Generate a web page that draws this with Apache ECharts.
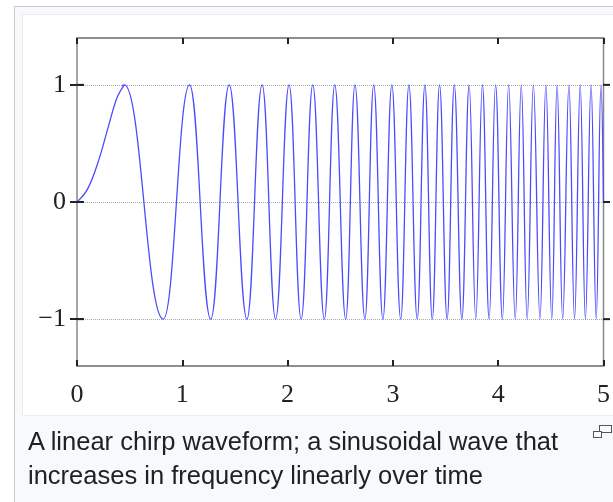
<!DOCTYPE html>
<html>
<head>
<meta charset="utf-8">
<title>Linear chirp</title>
<script src="https://cdn.jsdelivr.net/npm/echarts@6/dist/echarts.min.js"></script>
<style>
	html, body { margin: 0; padding: 0; background: #fff; }
	#page { position: relative; width: 613px; height: 502px; overflow: hidden; }
	.thumb { position: absolute; left: 14px; top: 6px; width: 640px; height: 520px; background: #f8f9fa; border: 1px solid #c8ccd1; }
	.image { position: absolute; left: 22px; top: 14px; width: 620px; height: 400px; background: #fff; border: 1px solid #eaecf0; }
	#chart { position: absolute; left: 0; top: 0; width: 613px; height: 502px; }
	.caption { position: absolute; left: 28px; top: 424px; width: 560px; font-family: "Liberation Sans", Arial, sans-serif; font-size: 25.5px; line-height: 34px; color: #202122; }
	.magnify { position: absolute; left: 593px; top: 425px; width: 20px; height: 14px; }
	.magnify .a { position: absolute; left: 6px; top: 0; width: 11px; height: 6px; border: 1.5px solid #555; background: #f8f9fa; }
	.magnify .b { position: absolute; left: 0; top: 6px; width: 7px; height: 5px; border: 1.5px solid #555; background: #f8f9fa; }
</style>
</head>
<body>
<div id="page">
	<div class="thumb"></div>
	<div class="image"></div>
	<div id="chart"></div>
	<div class="caption">A linear chirp waveform; a sinusoidal wave that increases in frequency linearly over time</div>
	<div class="magnify"><div class="a"></div><div class="b"></div></div>
</div>
<script>
// slow first rise (time, value)
var riseT = [0, 0.1, 0.2, 0.3, 0.38, 0.45];
var riseY = [0, 0.11, 0.34, 0.65, 0.89, 1];
// start and end of the wave
var edgeT = [0, 5.0];
var edgeY = [0, 0];
// times where the wave touches +1
var peakT = [0.450, 1.069, 1.445, 1.758, 2.014, 2.239, 2.448, 2.640, 2.818, 2.990,
	3.152, 3.304, 3.443, 3.583, 3.724, 3.850, 3.975, 4.099, 4.219, 4.334,
	4.453, 4.559, 4.672, 4.779, 4.882, 4.976];
// times where the wave touches -1
var troughT = [0.820, 1.270, 1.614, 1.886, 2.129, 2.349, 2.552, 2.734, 2.905, 3.074,
	3.231, 3.374, 3.515, 3.655, 3.787, 3.914, 4.040, 4.162, 4.275, 4.397,
	4.509, 4.612, 4.725, 4.828, 4.931];
var xTicks = [0, 1, 2, 3, 4, 5];
var yTicks = [-1, 0, 1];
var yLimit = 1.4;

var risePoints = riseT.map(function (t, i) { return [t, riseY[i]]; });
var points = [];
edgeT.forEach(function (t, i) { points.push([t, edgeY[i]]); });
peakT.forEach(function (t) { points.push([t, 1]); });
troughT.forEach(function (t) { points.push([t, -1]); });
points.sort(function (a, b) { return a[0] - b[0]; });

var waveColor = '#4b4bff';
// the rise before the first peak is drawn by its own series, so hide it here
var cut = peakT[0] / xTicks[xTicks.length - 1];
var waveGradient = new echarts.graphic.LinearGradient(0, 0, 1, 0, [
	{ offset: 0, color: 'rgba(75,75,255,0)' },
	{ offset: cut - 0.002, color: 'rgba(75,75,255,0)' },
	{ offset: cut, color: waveColor },
	{ offset: 1, color: waveColor }
]);

/* plot box, and an inner box spanning -1..1 that carries the dotted lines */
var box = { left: 77, right: 3, top: 38, bottom: 136 };
var plotH = 502 - box.top - box.bottom;
var pad = plotH * (yLimit - yTicks[yTicks.length - 1]) / (2 * yLimit);

var frameColor = '#888';
var tickStyle = { color: '#222', width: 2 };
var labelFont = { fontFamily: '"Liberation Serif", "DejaVu Serif", serif', fontSize: 26, color: '#222' };
var minusFormat = function (v) { return v < 0 ? '\u2212' + (-v) : String(v); };

var myChart = echarts.init(document.getElementById('chart'));
var option = {
	animation: false,
	grid: [
		{
			left: box.left,
			right: box.right,
			top: box.top,
			bottom: box.bottom,
			show: true,
			borderColor: frameColor,
			borderWidth: 1.5
		},
		{
			left: box.left,
			right: box.right,
			top: box.top + pad,
			bottom: box.bottom + pad
		}
	],
	xAxis: [
		{
			gridIndex: 0,
			type: 'value',
			min: xTicks[0],
			max: xTicks[xTicks.length - 1],
			interval: 1,
			axisLine: { show: true, onZero: false, lineStyle: { color: frameColor, width: 1.5 } },
			axisTick: { show: true, inside: true, length: 6, lineStyle: tickStyle },
			axisLabel: Object.assign({ margin: 16 }, labelFont),
			splitLine: { show: false }
		},
		{
			gridIndex: 0,
			type: 'value',
			position: 'top',
			min: xTicks[0],
			max: xTicks[xTicks.length - 1],
			interval: 1,
			axisLine: { show: true, onZero: false, lineStyle: { color: frameColor, width: 1.5 } },
			axisTick: { show: true, inside: true, length: 6, lineStyle: tickStyle },
			axisLabel: { show: false },
			splitLine: { show: false }
		},
		{
			gridIndex: 1,
			type: 'value',
			min: xTicks[0],
			max: xTicks[xTicks.length - 1],
			show: false
		}
	],
	yAxis: [
		{
			gridIndex: 0,
			type: 'value',
			min: -yLimit,
			max: yLimit,
			axisLine: { show: false },
			axisTick: { show: true, inside: true, length: 7, lineStyle: tickStyle, customValues: yTicks },
			axisLabel: Object.assign({ margin: 11, customValues: yTicks, formatter: minusFormat }, labelFont),
			splitLine: { show: false }
		},
		{
			gridIndex: 0,
			type: 'value',
			position: 'right',
			min: -yLimit,
			max: yLimit,
			axisLine: { show: false },
			axisTick: { show: true, inside: true, length: 7, lineStyle: tickStyle, customValues: yTicks },
			axisLabel: { show: false, customValues: yTicks },
			splitLine: { show: false }
		},
		{
			gridIndex: 1,
			type: 'value',
			min: yTicks[0],
			max: yTicks[yTicks.length - 1],
			interval: 1,
			axisLine: { show: false, onZero: false },
			axisTick: { show: false },
			axisLabel: { show: false },
			splitLine: { show: true, lineStyle: { color: '#aaa', type: 'dotted', width: 1 } }
		}
	],
	series: [
		{
			type: 'line',
			xAxisIndex: 0,
			yAxisIndex: 0,
			data: risePoints,
			showSymbol: false,
			smooth: 0.4,
			z: 3,
			lineStyle: { color: waveColor, width: 1.3 }
		},
		{
			type: 'line',
			xAxisIndex: 0,
			yAxisIndex: 0,
			data: points,
			showSymbol: false,
			// flat tangents at every extreme gives a sine-like shape
			smooth: 0.43,
			smoothMonotone: 'x',
			z: 3,
			lineStyle: { color: waveGradient, width: 1.3 }
		}
	]
};
myChart.setOption(option);

/* y ticks on both sides again as plain lines, placed with the axis scale */
var tickLen = 7;
var leftX = box.left;
var rightX = 613 - box.right;
var tickMarks = [];
yTicks.forEach(function (v) {
	var py = myChart.convertToPixel({ yAxisIndex: 0 }, v);
	if (typeof py !== 'number' || isNaN(py)) {
		return;
	}
	tickMarks.push({ type: 'line', shape: { x1: leftX, y1: py, x2: leftX + tickLen, y2: py }, style: { stroke: tickStyle.color, lineWidth: tickStyle.width }, z: 10, silent: true });
	tickMarks.push({ type: 'line', shape: { x1: rightX - tickLen, y1: py, x2: rightX, y2: py }, style: { stroke: tickStyle.color, lineWidth: tickStyle.width }, z: 10, silent: true });
});
myChart.setOption({ graphic: tickMarks });
</script>
</body>
</html>
